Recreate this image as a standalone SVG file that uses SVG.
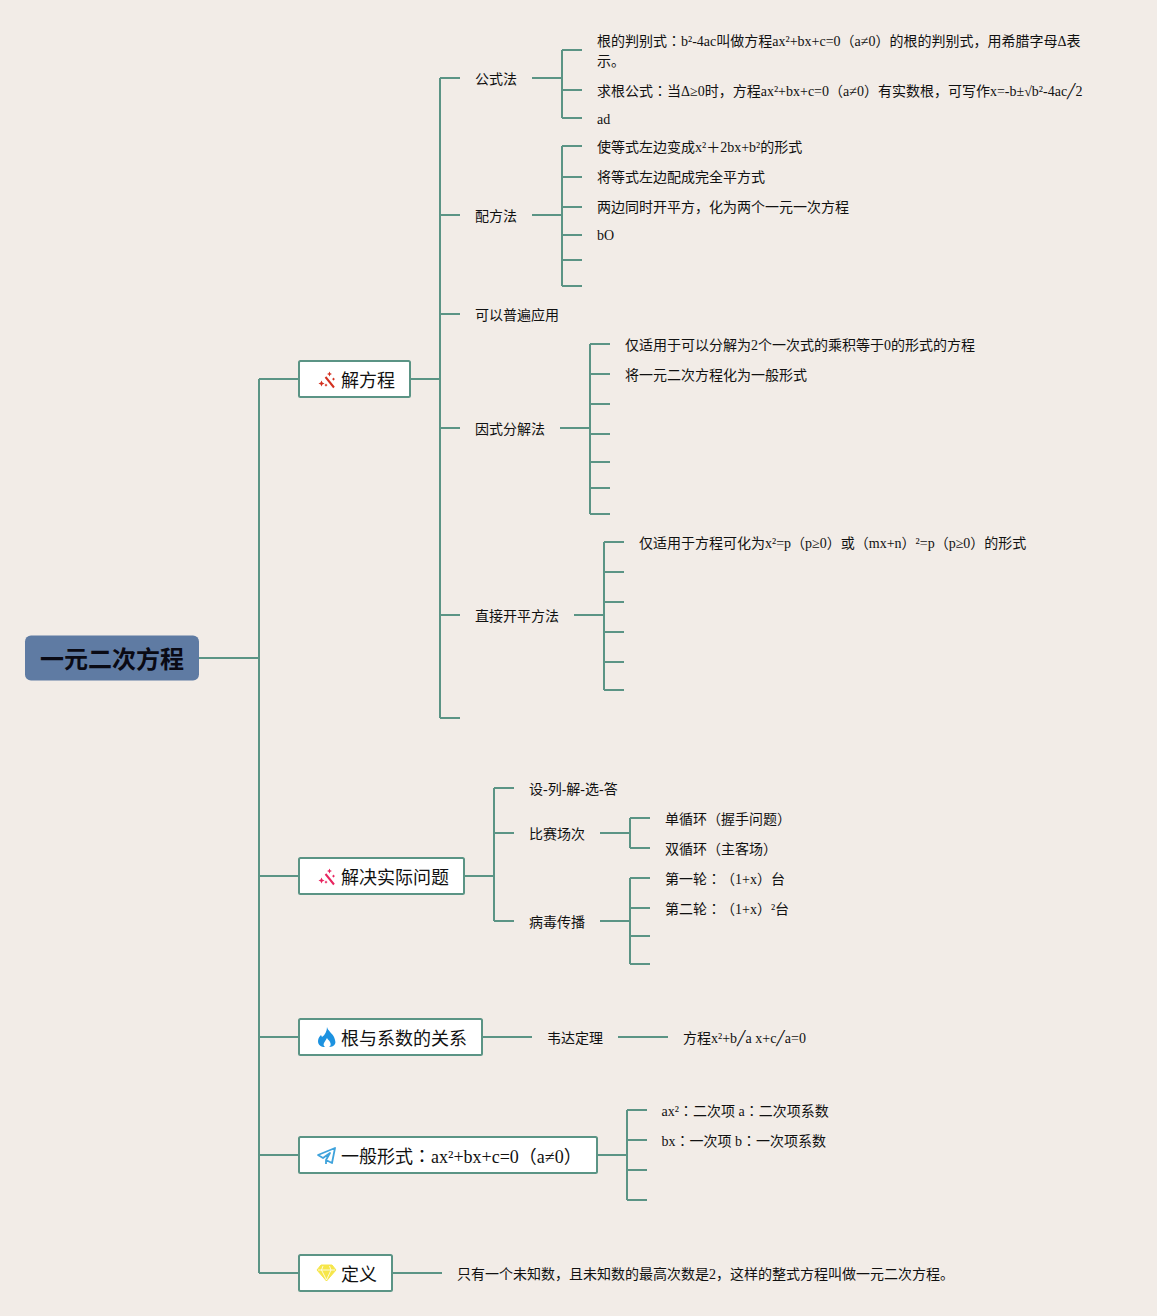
<svg xmlns="http://www.w3.org/2000/svg" width="1157" height="1316" viewBox="0 0 1157 1316">
<style>
text{font-family:"Liberation Serif","Noto Sans CJK SC",serif;fill:#111;text-spacing-trim:space-all}
.k{font-family:"Noto Sans CJK TC",sans-serif}
.s{font-family:"DejaVu Sans",sans-serif}
.t{font-size:14px}
.m{font-size:18px}
.r{font-size:24px;font-weight:bold;fill:#0a0a14;font-family:"Noto Sans CJK SC","Liberation Sans",sans-serif}
.b{fill:#fff;stroke:#5b9485;stroke-width:2}
.c{fill:none;stroke:#5b9485;stroke-width:2}
</style>
<defs>
<g id="wand"><path d="M7.500 6 L16 16.500" fill="none" stroke-width="2" stroke="currentColor"/><path d="M11.500 0.500l.8 1.700 1.700.8-1.700.8-.8 1.700-.8-1.700-1.700-.8 1.700-.8zM3.500 9.500l.9 2.100 2.100.9-2.100.9-.9 2.100-.9-2.100-2.100-.9 2.100-.9zM15.500 6.500l.6 1 1 .6-1 .6-.6 1-.6-1-1-.6 1-.6zM8 12.500l.6 1 1 .6-1 .6-.6 1-.6-1-1-.6 1-.6z" fill="currentColor"/></g>
</defs>
<rect width="1157" height="1316" fill="#f2ece7"/>
<g id="connectors" class="c">
<path d="M199 658H259M259 379V1273M259 379H299M259 876H299M259 1037H299M259 1155H299M259 1273H299"/>
<path d="M410 379H440M440 78V718M440 78H460M440 215H460M440 314H460M440 428H460M440 615H460M440 718H460"/>
<path d="M532 78H562M562 50V118M562 50H582M562 90H582M562 118H582"/>
<path d="M532 215H562M562 146V286M562 146H582M562 177H582M562 207H582M562 235H582M562 260H582M562 286H582"/>
<path d="M560 428H590M590 344V514M590 344H610M590 374H610M590 404H610M590 434H610M590 462H610M590 488H610M590 514H610"/>
<path d="M574 615H604M604 542V690M604 542H624M604 572H624M604 602H624M604 632H624M604 662H624M604 690H624"/>
<path d="M464 876H494M494 788V921M494 788H514M494 833H514M494 921H514"/>
<path d="M600 833H630M630 818V848M630 818H650M630 848H650"/>
<path d="M600 921H630M630 878V964M630 878H650M630 908H650M630 936H650M630 964H650"/>
<path d="M482 1037H532M618 1037H668"/>
<path d="M597 1155H627M627 1110V1200M627 1110H647M627 1140H647M627 1170H647M627 1200H647"/>
<path d="M392 1273H442"/>
</g>
<g id="root"><rect x="25" y="635.500" width="174" height="45" rx="6" fill="#5f7ba3"/><text class="r" x="40" y="668">一元二次方程</text></g>
<g id="n-jiefangcheng"><rect class="b" x="299" y="361" width="111" height="36" rx="1.500"/><use href="#wand" x="318" y="371" color="#d3301f"/><text class="m" x="341" y="387">解方程</text></g>
<g id="n-shiji"><rect class="b" x="299" y="858" width="165" height="36" rx="1.500"/><use href="#wand" x="318" y="868" color="#e8245f"/><text class="m" x="341" y="884">解决实际问题</text></g>
<g id="n-xishu"><rect class="b" x="299" y="1019" width="183" height="36" rx="1.500"/><path d="M327 1027c1 4 5 6 7 10 1 3 2 5 1 7-1 2-3 3-6 3 2-1 2-3 1-5-1-2-2-2-3-4-1 2-2 3-3 5-1 2 0 3 1 4-4 0-7-2-7-6 0-3 2-5 3-6l1 2c3-2 5-6 5-10z" fill="#1c92e0"/><text class="m" x="341" y="1045">根与系数的关系</text></g>
<g id="n-yiban"><rect class="b" x="299" y="1137" width="298" height="36" rx="1.500"/><path d="M335 1148L318 1155L323 1158L330 1153L326 1160L332 1163ZM326 1160V1164" fill="none" stroke="#3fa3dc" stroke-width="1.800" stroke-linejoin="round"/><text class="m" x="341" y="1163">一般形式<tspan class="k">：</tspan>ax²+bx+c=0（a≠0）</text></g>
<g id="n-dingyi"><rect class="b" x="299" y="1255" width="93" height="36" rx="1.500"/><path d="M321 1265H332L336 1270L326.500 1281L317 1270Z" fill="#f6e64a" stroke="#f6e64a" stroke-width="1"/><path d="M318 1270H335M323 1266L321.500 1270L326.500 1280L331 1270L329.500 1266" fill="none" stroke="#fff" stroke-width=".8"/><text class="m" x="341" y="1281">定义</text></g>
<g id="n-gongshi"><text class="t" x="475" y="84">公式法</text></g>
<g id="n-g1"><text class="t" x="597" y="46">根的判别式<tspan class="k">：</tspan>b²-4ac叫做方程ax²+bx+c=0（a≠0）的根的判别式，用希腊字母Δ表</text><text class="t" x="597" y="66">示。</text></g>
<g id="n-g2"><text class="t" x="597" y="96">求根公式<tspan class="k">：</tspan>当Δ≥0时，方程ax²+bx+c=0（a≠0）有实数根，可写作x=-b±√b²-4ac<tspan class="s">╱</tspan>2</text></g>
<g id="n-g3"><text class="t" x="597" y="124">ad</text></g>
<g id="n-peifang"><text class="t" x="475" y="221">配方法</text></g>
<g id="n-p1"><text class="t" x="597" y="152">使等式左边变成x²＋2bx+b²的形式</text></g>
<g id="n-p2"><text class="t" x="597" y="182">将等式左边配成完全平方式</text></g>
<g id="n-p3"><text class="t" x="597" y="212">两边同时开平方，化为两个一元一次方程</text></g>
<g id="n-p4"><text class="t" x="597" y="240">bO</text></g>
<g id="n-pubian"><text class="t" x="475" y="320">可以普遍应用</text></g>
<g id="n-yinshi"><text class="t" x="475" y="434">因式分解法</text></g>
<g id="n-y1"><text class="t" x="625" y="350">仅适用于可以分解为2个一次式的乘积等于0的形式的方程</text></g>
<g id="n-y2"><text class="t" x="625" y="380">将一元二次方程化为一般形式</text></g>
<g id="n-zhijie"><text class="t" x="475" y="621">直接开平方法</text></g>
<g id="n-z1"><text class="t" x="639" y="548">仅适用于方程可化为x²=p（p≥0）或（mx+n）²=p（p≥0）的形式</text></g>
<g id="n-s1"><text class="t" x="529" y="794">设-列-解-选-答</text></g>
<g id="n-s2"><text class="t" x="529" y="839">比赛场次</text></g>
<g id="n-s21"><text class="t" x="665" y="824">单循环（握手问题）</text></g>
<g id="n-s22"><text class="t" x="665" y="854">双循环（主客场）</text></g>
<g id="n-s3"><text class="t" x="529" y="927">病毒传播</text></g>
<g id="n-s31"><text class="t" x="665" y="884">第一轮<tspan class="k">：</tspan>（1+x）台</text></g>
<g id="n-s32"><text class="t" x="665" y="914">第二轮<tspan class="k">：</tspan>（1+x）²台</text></g>
<g id="n-weida"><text class="t" x="547" y="1043">韦达定理</text></g>
<g id="n-w1"><text class="t" x="683" y="1043">方程x²+b<tspan class="s">╱</tspan>a x+c<tspan class="s">╱</tspan>a=0</text></g>
<g id="n-a1"><text class="t" x="661.500" y="1116">ax²<tspan class="k">：</tspan>二次项 a<tspan class="k">：</tspan>二次项系数</text></g>
<g id="n-a2"><text class="t" x="661.500" y="1146">bx<tspan class="k">：</tspan>一次项 b<tspan class="k">：</tspan>一次项系数</text></g>
<g id="n-d1"><text class="t" x="457" y="1279">只有一个未知数，且未知数的最高次数是2，这样的整式方程叫做一元二次方程。</text></g>
</svg>
